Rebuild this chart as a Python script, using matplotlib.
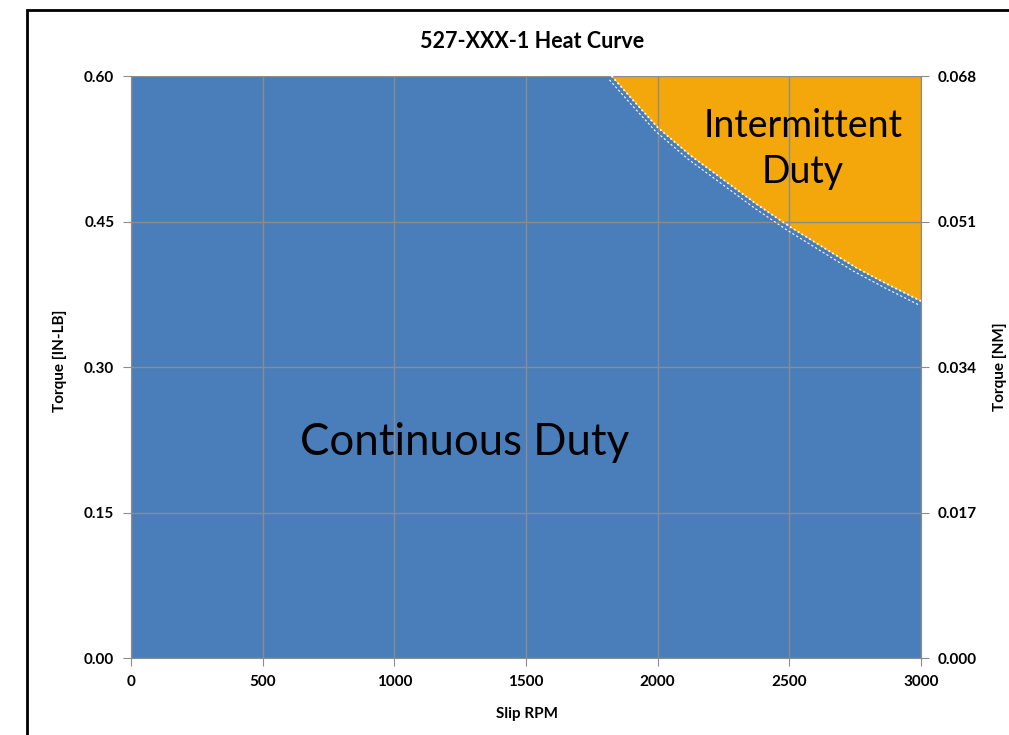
import numpy as np
import matplotlib.pyplot as plt
from matplotlib.patches import Rectangle

# ---------------------------------------------------------------------------
# Data
# ---------------------------------------------------------------------------
slip_rpm = [0, 1825, 1900, 2000, 2125, 2250, 2375, 2500, 2625, 2750, 2875, 3000]
torque_limit = [0.600, 0.600, 0.577, 0.547, 0.518, 0.493, 0.468, 0.445, 0.424, 0.403, 0.385, 0.368]

x_ticks = [0, 500, 1000, 1500, 2000, 2500, 3000]
y_ticks = [0.00, 0.15, 0.30, 0.45, 0.60]
y_ticks_nm = ["0.000", "0.017", "0.034", "0.051", "0.068"]

TITLE = "527-XXX-1 Heat Curve"
BLUE = "#4a7ebb"
ORANGE = "#f4a70b"
GRID = "#8c8c8c"

plt.rcParams["font.family"] = ["Lato", "DejaVu Sans"]

fig = plt.figure(figsize=(10.09, 7.35), dpi=100)
ax = fig.add_axes([131 / 1009, 1 - 658 / 735, 790 / 1009, 582 / 735])

x = np.array(slip_rpm, dtype=float)
y = np.array(torque_limit)
ax.fill_between(x, 0, y, color=BLUE, lw=0, zorder=1)
ax.fill_between(x, y, 0.6, color=ORANGE, lw=0, zorder=1)
# white dotted boundary (two thin dotted strokes as in the original)
ax.plot(x[1:], y[1:], color="white", ls=(0, (1, 1.5)), lw=1.3, zorder=3)
ax.plot(x[1:] - 8, y[1:] - 0.004, color="white", ls=(0, (2, 2)), lw=0.8, zorder=3)

ax.set_xlim(0, 3000)
ax.set_ylim(0, 0.6)
ax.set_xticks(x_ticks)
ax.set_yticks(y_ticks)
ax.set_yticklabels([f"{v:.2f}" for v in y_ticks])
ax.grid(True, color=GRID, lw=1.0, zorder=2)
ax.set_axisbelow(False)
for s in ("left", "bottom", "right"):
    ax.spines[s].set_color(GRID)
ax.spines["top"].set_visible(False)
ax.tick_params(axis="both", direction="out", length=6, color=GRID, labelsize=11, pad=6)
for lbl in ax.get_xticklabels() + ax.get_yticklabels():
    lbl.set_fontweight("bold")

ax2 = ax.twinx()
ax2.set_ylim(0, 0.6)
ax2.set_yticks(y_ticks)
ax2.set_yticklabels(y_ticks_nm, fontweight="bold")
ax2.tick_params(axis="y", direction="out", length=6, color=GRID, labelsize=11, pad=6)
for s in ax2.spines.values():
    s.set_visible(False)

ax.text(1268, 0.222, "Continuous Duty", fontsize=31.5, ha="center", va="center", zorder=4)
ax.text(2552, 0.525, "Intermittent\nDuty", fontsize=27, ha="center", va="center",
        linespacing=1.35, zorder=4)

fig.text(532 / 1009, 1 - 42 / 735, TITLE, ha="center", va="center",
         fontsize=15.5, fontweight="bold")
fig.text(527 / 1009, 1 - 714 / 735, "Slip RPM", ha="center", va="center",
         fontsize=11, fontweight="bold")
fig.text(60 / 1009, 1 - 361 / 735, "Torque [IN-LB]", ha="center", va="center",
         rotation=90, fontsize=11, fontweight="bold")
fig.text(1007 / 1009, 1 - 367 / 735, "Torque [NM]", ha="right", va="center",
         rotation=90, fontsize=11, fontweight="bold")

# outer chart border (cropped at right and bottom)
fig.patches.append(Rectangle((27 / 1009, -0.1), 1.2, 1 - 10 / 735 + 0.1,
                             transform=fig.transFigure, fill=False,
                             edgecolor="black", lw=2))

fig.savefig("out.png", dpi=100)
